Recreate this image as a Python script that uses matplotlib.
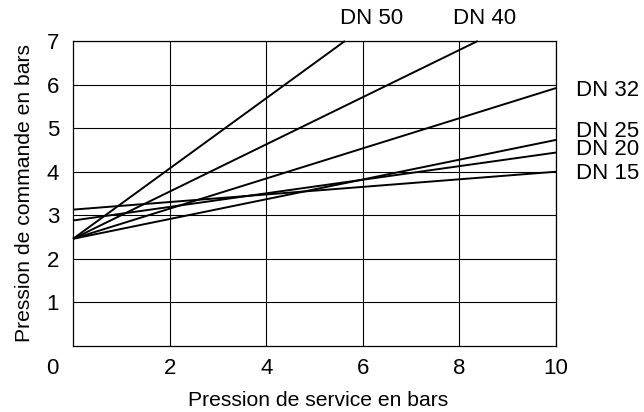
import matplotlib
matplotlib.use("Agg")
import matplotlib.pyplot as plt

plt.rcParams['font.family'] = ['Liberation Sans', 'DejaVu Sans']

series = ["DN 50", "DN 40", "DN 32", "DN 25", "DN 20", "DN 15"]
start_x = [0, 0, 0, 0, 0, 0]
start_y = [2.46, 2.46, 2.46, 2.46, 2.88, 3.13]
end_x = [5.63, 8.38, 10, 10, 10, 10]
end_y = [7, 7, 5.92, 4.73, 4.44, 4.0]

x_ticks = [2, 4, 6, 8, 10]
y_ticks = [1, 2, 3, 4, 5, 6, 7]
x_label = "Pression de service en bars"
y_label = "Pression de commande en bars"

# label positions (data coords)
label_pos = {
    "DN 50": (6.19, 7.51, 'center'),
    "DN 40": (8.53, 7.51, 'center'),
    "DN 32": (10.41, 5.86, 'left'),
    "DN 25": (10.41, 4.93, 'left'),
    "DN 20": (10.41, 4.50, 'left'),
    "DN 15": (10.41, 3.97, 'left'),
}

FS = 16

fig = plt.figure(figsize=(6.44, 4.12), dpi=100)
ax = fig.add_axes([73/644, 1 - 346/412, (556-73)/644, (346-41)/412])
ax.set_xlim(0, 10)
ax.set_ylim(0, 7)
ax.set_xticks(x_ticks)
ax.set_yticks(y_ticks)
ax.tick_params(axis='x', length=0, labelsize=FS, pad=8.5)
ax.tick_params(axis='y', length=0, labelsize=FS, pad=10)
ax.grid(True, color='black', linewidth=0.8)
ax.set_axisbelow(True)
for s in ax.spines.values():
    s.set_linewidth(0.9)

for name, x0, y0, x1, y1 in zip(series, start_x, start_y, end_x, end_y):
    ax.plot([x0, x1], [y0, y1], color='black', linewidth=1.4, solid_capstyle='butt', clip_on=False)
    lx, ly, ha = label_pos[name]
    ax.text(lx, ly, name, ha=ha, va='center', fontsize=FS, clip_on=False)

ax.annotate("0", xy=(0, 0), xycoords='data', xytext=(-20.5, -23), textcoords='offset pixels',
            ha='center', va='center', fontsize=FS)

ax.set_xlabel(x_label, fontsize=15.2)
ax.xaxis.set_label_coords(0.507, -0.148)
ax.set_ylabel(y_label, fontsize=15.2, labelpad=9)

fig.savefig("out.png", dpi=100)
